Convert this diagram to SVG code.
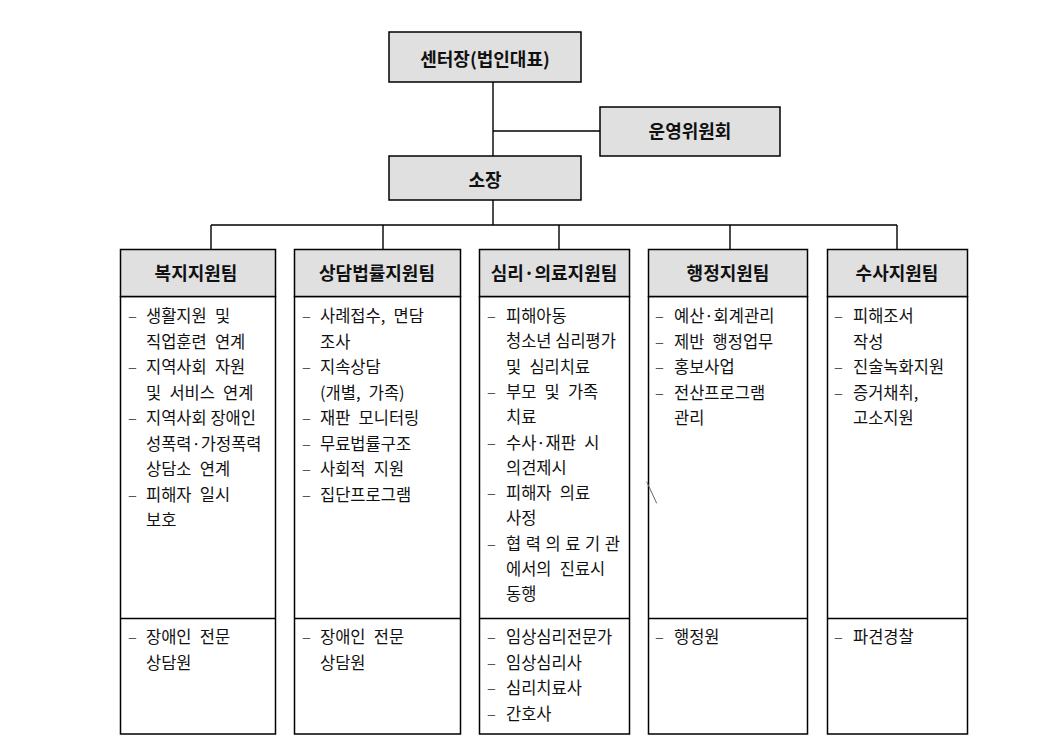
<svg xmlns="http://www.w3.org/2000/svg" width="1055" height="740" viewBox="0 0 1055 740">
<style>
.box{fill:#e0e0e0;stroke:#000;stroke-width:1.5}
.body{fill:#fff;stroke:#000;stroke-width:1.5}
.div{stroke:#000;stroke-width:1.5}
.conn{stroke:#000;stroke-width:1.4;fill:none}
.title{font-family:"Noto Sans CJK KR","Noto Sans",sans-serif;font-size:18px;font-weight:bold;fill:#111;text-anchor:middle}
.t{font-family:"Noto Sans CJK KR","Noto Sans",sans-serif;font-size:16.5px;fill:#111;word-spacing:4.5px}
.d{font-family:"Noto Sans CJK KR","Noto Sans",sans-serif;font-size:16.5px;fill:#555}
</style>
<rect width="1055" height="740" fill="#fff"/>
<g id="connectors">
<line class="conn" x1="493" y1="82" x2="493" y2="156"/>
<line class="conn" x1="493" y1="131" x2="600" y2="131"/>
<line class="conn" x1="493" y1="200" x2="493" y2="225"/>
<line class="conn" x1="211" y1="225" x2="897" y2="225"/>
<line class="conn" x1="211" y1="225" x2="211" y2="249"/>
<line class="conn" x1="383" y1="225" x2="383" y2="249"/>
<line class="conn" x1="559" y1="225" x2="559" y2="249"/>
<line class="conn" x1="730" y1="225" x2="730" y2="249"/>
<line class="conn" x1="897" y1="225" x2="897" y2="249"/>
</g>
<g id="center-head">
<rect class="box" x="389" y="32" width="192" height="50"/>
<text class="title" x="485" y="65.5">센터장(법인대표)</text>
</g>
<g id="committee">
<rect class="box" x="600" y="107" width="180" height="49"/>
<text class="title" x="690" y="137.5">운영위원회</text>
</g>
<g id="director">
<rect class="box" x="389" y="156" width="192" height="44"/>
<text class="title" x="485" y="186.5">소장</text>
</g>
<g id="team-welfare">
<rect class="body" x="120.5" y="296.5" width="155" height="437.5"/>
<rect class="box" x="120.5" y="249.5" width="155" height="47"/>
<line class="div" x1="120.5" y1="618.5" x2="275.5" y2="618.5"/>
<text class="title" x="196" y="279.5">복지지원팀</text>
<text class="d" x="128" y="322">–</text><text class="t" x="146" y="322">생활지원 및</text>
<text class="t" x="146" y="347.5">직업훈련 연계</text>
<text class="d" x="128" y="373">–</text><text class="t" x="146" y="373">지역사회 자원</text>
<text class="t" x="146" y="398.5">및 서비스 연계</text>
<text class="d" x="128" y="424">–</text><text class="t" x="146" y="424" style="word-spacing:0">지역사회 장애인</text>
<text class="t" x="146" y="449.5" style="word-spacing:0">성폭력·가정폭력</text>
<text class="t" x="146" y="475">상담소 연계</text>
<text class="d" x="128" y="500.5">–</text><text class="t" x="146" y="500.5">피해자 일시</text>
<text class="t" x="146" y="526">보호</text>
<text class="d" x="128" y="643">–</text><text class="t" x="146" y="643">장애인 전문</text>
<text class="t" x="146" y="668.5">상담원</text>
</g>
<g id="team-counsel">
<rect class="body" x="294.5" y="296.5" width="166" height="437.5"/>
<rect class="box" x="294.5" y="249.5" width="166" height="47"/>
<line class="div" x1="294.5" y1="618.5" x2="460.5" y2="618.5"/>
<text class="title" x="377" y="279.5">상담법률지원팀</text>
<text class="d" x="302" y="322">–</text><text class="t" x="320" y="322">사례접수, 면담</text>
<text class="t" x="320" y="347.5">조사</text>
<text class="d" x="302" y="373">–</text><text class="t" x="320" y="373">지속상담</text>
<text class="t" x="320" y="398.5">(개별, 가족)</text>
<text class="d" x="302" y="424">–</text><text class="t" x="320" y="424">재판 모니터링</text>
<text class="d" x="302" y="449.5">–</text><text class="t" x="320" y="449.5">무료법률구조</text>
<text class="d" x="302" y="475">–</text><text class="t" x="320" y="475">사회적 지원</text>
<text class="d" x="302" y="500.5">–</text><text class="t" x="320" y="500.5">집단프로그램</text>
<text class="d" x="302" y="643">–</text><text class="t" x="320" y="643">장애인 전문</text>
<text class="t" x="320" y="668.5">상담원</text>
</g>
<g id="team-psych">
<rect class="body" x="479.5" y="296.5" width="150" height="437.5"/>
<rect class="box" x="479.5" y="249.5" width="150" height="47"/>
<line class="div" x1="479.5" y1="618.5" x2="629.5" y2="618.5"/>
<text class="title" x="554" y="279.5">심리·의료지원팀</text>
<text class="d" x="487" y="322">–</text><text class="t" x="506" y="322">피해아동</text>
<text class="t" x="506" y="347.3" style="word-spacing:0">청소년 심리평가</text>
<text class="t" x="506" y="372.6">및 심리치료</text>
<text class="d" x="487" y="397.9">–</text><text class="t" x="506" y="397.9">부모 및 가족</text>
<text class="t" x="506" y="423.2">치료</text>
<text class="d" x="487" y="448.5">–</text><text class="t" x="506" y="448.5">수사·재판 시</text>
<text class="t" x="506" y="473.8">의견제시</text>
<text class="d" x="487" y="499.1">–</text><text class="t" x="506" y="499.1">피해자 의료</text>
<text class="t" x="506" y="524.4">사정</text>
<text class="d" x="487" y="549.7">–</text><text class="t" x="506" y="549.7" textLength="114" lengthAdjust="spacing">협력의료기관</text>
<text class="t" x="506" y="575">에서의 진료시</text>
<text class="t" x="506" y="600.3">동행</text>
<text class="d" x="487" y="643">–</text><text class="t" x="506" y="643">임상심리전문가</text>
<text class="d" x="487" y="668.5">–</text><text class="t" x="506" y="668.5">임상심리사</text>
<text class="d" x="487" y="694">–</text><text class="t" x="506" y="694">심리치료사</text>
<text class="d" x="487" y="719.5">–</text><text class="t" x="506" y="719.5">간호사</text>
</g>
<g id="team-admin">
<rect class="body" x="648.5" y="296.5" width="159" height="437.5"/>
<rect class="box" x="648.5" y="249.5" width="159" height="47"/>
<line class="div" x1="648.5" y1="618.5" x2="807.5" y2="618.5"/>
<text class="title" x="728" y="279.5">행정지원팀</text>
<text class="d" x="655" y="322">–</text><text class="t" x="674" y="322" style="word-spacing:0">예산·회계관리</text>
<text class="d" x="655" y="347.5">–</text><text class="t" x="674" y="347.5">제반 행정업무</text>
<text class="d" x="655" y="373">–</text><text class="t" x="674" y="373">홍보사업</text>
<text class="d" x="655" y="398.5">–</text><text class="t" x="674" y="398.5">전산프로그램</text>
<text class="t" x="674" y="424">관리</text>
<line x1="646.7" y1="481.7" x2="656.7" y2="503.3" stroke="#666" stroke-width="1"/>
<text class="d" x="655" y="643">–</text><text class="t" x="674" y="643">행정원</text>
</g>
<g id="team-invest">
<rect class="body" x="827.5" y="296.5" width="140" height="437.5"/>
<rect class="box" x="827.5" y="249.5" width="140" height="47"/>
<line class="div" x1="827.5" y1="618.5" x2="967.5" y2="618.5"/>
<text class="title" x="897" y="279.5">수사지원팀</text>
<text class="d" x="834" y="322">–</text><text class="t" x="853" y="322">피해조서</text>
<text class="t" x="853" y="347.5">작성</text>
<text class="d" x="834" y="373">–</text><text class="t" x="853" y="373">진술녹화지원</text>
<text class="d" x="834" y="398.5">–</text><text class="t" x="853" y="398.5">증거채취,</text>
<text class="t" x="853" y="424">고소지원</text>
<text class="d" x="834" y="643">–</text><text class="t" x="853" y="643">파견경찰</text>
</g>
</svg>
